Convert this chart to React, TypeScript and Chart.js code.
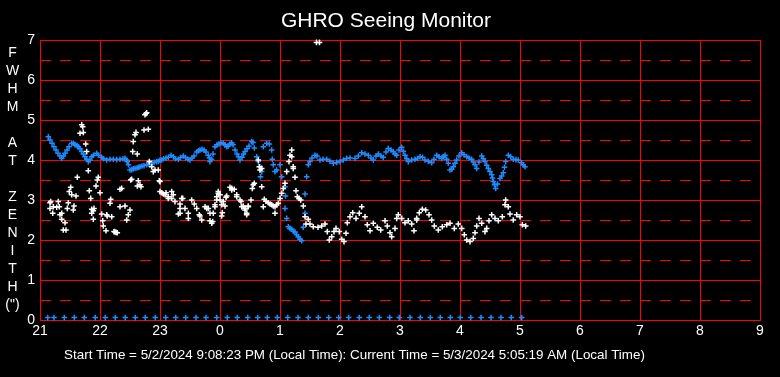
import React, { useEffect, useRef } from 'react';
import { Chart, registerables } from 'chart.js';

Chart.register(...registerables);

// ---- text ----
const TITLE = 'GHRO Seeing Monitor';
const CAPTION = 'Start Time = 5/2/2024 9:08:23 PM (Local Time): Current Time = 5/3/2024 5:05:19 AM (Local Time)';
const Y_TITLE_LINES = ['F', 'W', 'H', 'M', '', 'A', 'T', '', 'Z', 'E', 'N', 'I', 'T', 'H', '(")'];

// ---- axes (x in minutes after 21:00) ----
const HOUR_LABELS = ['21', '22', '23', '0', '1', '2', '3', '4', '5', '6', '7', '8', '9'];
const X_MIN = 0;
const X_MAX = 720;
const X_STEP = 60;
const Y_MIN = 0;
const Y_MAX = 7;
const HALF_TICKS = [0.5, 1.5, 2.5, 3.5, 4.5, 5.5, 6.5];

// ---- blue series (minutes after 21:00, FWHM) ----
const BLUE_MIN = [
  8.3, 10, 12, 14, 16, 18, 20, 21.7, 23.5, 25, 27, 29, 31.7, 33.5, 35, 37, 38.3, 40, 41.7, 43.3,
  45, 46.7, 48.3, 50, 51.7, 53.5, 56.7, 58.5, 61.7, 63.5, 66.7, 70, 73.3, 76.7, 80, 83, 85, 86.5, 87.3, 88.5,
  90, 91.7, 93.3, 95, 97, 98.5, 100, 102, 104, 106.7, 108.5, 110, 112, 114, 116.7, 118.5, 120, 121.7, 123.5, 126,
  128.3, 131, 133.5, 135.5, 138.3, 140.5, 143.3, 145.5, 148, 150, 152, 154, 156.7, 158.5, 160, 162, 164, 166, 168.3, 169.5,
  170, 171.5, 173, 175, 177, 179, 181, 183.3, 185, 186.7, 188.3, 190, 191.7, 193, 195, 197, 198.5, 200, 202, 203.5,
  205, 207, 209, 211.7, 213,
  214.3, 216.7, 218.3, 220, 221.7, 220.5, 223.3, 226.7, 229.3, 231.7, 232.3, 233.3, 235, 236.7, 240, 241.7, 245, 245.5, 245, 246.7,
  248.3, 250, 251.7, 253.3, 255, 256.7, 258.3, 260, 261.7, 263.3, 265, 265, 266.7, 268.3,
  270, 272, 275, 277, 280, 283, 286.7, 290, 293.3, 296.7, 300, 303.3, 306.7, 310, 315, 318.3, 321.7, 325, 328.3, 331,
  333.3, 336, 338.3, 341, 343.3, 346, 348.3, 351, 353.3, 355, 356.7, 359, 361.7, 363.3, 365, 366.7, 368.3, 371.7, 375, 377.5,
  380, 382.5, 385, 388.3, 391.7, 394, 396.7, 399, 401.7, 403.3, 405, 406.7, 408.3, 410, 411.7, 413.3, 415, 416.7, 419, 421.7,
  424, 426.7, 429, 431.7, 433.3, 435, 436.7, 439, 441.7, 443.3, 445, 446.7, 448.3, 450, 451.7, 452.5, 453.3, 454.5, 455.7, 457.5,
  460, 461.7, 463.3, 464.5, 465.7, 468.3, 470.7, 473.3, 476, 478.3, 481.7, 483.3, 485,
];
const BLUE_FWHM = [
  4.58, 4.5, 4.42, 4.33, 4.25, 4.17, 4.1, 4.04, 4.1, 4.17, 4.25, 4.33, 4.42, 4.42, 4.38, 4.36, 4.33, 4.28, 4.21, 4.15,
  4.08, 4.02, 3.96, 4.0, 4.08, 4.12, 4.17, 4.12, 4.07, 4.03, 4.0, 4.02, 4.02, 4.01, 4.02, 4.03, 4.04, 4.0, 3.96, 3.88,
  3.75, 3.76, 3.78, 3.79, 3.8, 3.82, 3.83, 3.85, 3.86, 3.88, 3.9, 3.92, 3.93, 3.94, 3.96, 3.97, 4.0, 4.0, 4.03, 4.05,
  4.07, 4.12, 4.08, 4.03, 4.02, 4.06, 4.1, 4.06, 4.02, 4.0, 4.05, 4.1, 4.2, 4.23, 4.25, 4.27, 4.25, 4.2, 4.12, 4.05,
  3.96, 4.02, 4.15, 4.33, 4.38, 4.4, 4.43, 4.42, 4.38, 4.33, 4.35, 4.4, 4.43, 4.38, 4.25, 4.15, 4.08, 4.0, 4.07, 4.15,
  4.21, 4.28, 4.35, 4.46, 4.44,
  4.3, 4.08, 3.96, 3.83, 3.71, 3.58, 4.33, 4.42, 4.4, 4.25, 4.02, 3.88, 3.71, 3.75, 3.88, 3.58, 3.33, 3.1, 2.79, 2.54,
  2.33, 2.29, 2.27, 2.22, 2.2, 2.13, 2.08, 2.02, 1.98, 2.32, 2.67, 3.15, 3.58, 3.88,
  3.96, 4.05, 4.12, 4.1, 4.0, 4.02, 4.02, 3.97, 3.92, 3.94, 3.96, 4.0, 4.04, 4.05, 4.04, 4.1, 4.18, 4.15, 4.12, 4.05,
  4.0, 4.1, 4.15, 4.1, 4.07, 4.2, 4.29, 4.25, 4.21, 4.15, 4.12, 4.25, 4.32, 4.22, 4.12, 4.03, 3.96, 4.0, 4.02, 4.04,
  4.08, 4.07, 4.0, 3.97, 3.93, 4.02, 4.12, 4.08, 4.04, 4.08, 4.12, 4.02, 3.92, 3.75, 3.77, 3.83, 3.92, 4.0, 4.1, 4.18,
  4.13, 4.08, 4.05, 4.02, 3.95, 3.88, 3.79, 3.95, 4.1, 4.03, 3.96, 3.87, 3.79, 3.71, 3.63, 3.55, 3.46, 3.38, 3.29, 3.4,
  3.54, 3.6, 3.68, 3.82, 3.96, 4.12, 4.08, 4.02, 4.01, 4.0, 3.93, 3.88, 3.83,
];

// ---- white series (minutes after 21:00, FWHM) ----
const WHITE_MIN = [
  10, 10, 10.7, 12.7, 13.3, 16.7, 18.3, 19.3, 20, 21.7, 21.7, 23.3, 25, 26, 27.3, 28.3, 29.3, 30.7, 31.7, 33.3,
  34, 36, 37.3, 40, 41.7, 42.7, 43.3, 45.7, 46.7, 48.3, 49.3, 50.7, 51.7, 51.7, 53.3, 53.3, 54, 56, 57.3, 58.3,
  60, 61.7, 62.7, 63.3, 66, 66.7, 67.3, 70, 70.7, 71.7, 74, 75, 76, 77.3, 80, 80, 81.7, 85, 86.7, 88.3,
  90, 90.7, 91.7, 92.7, 93.3, 95, 96, 97.3, 97.3, 98.3, 100, 101, 104, 105, 106, 106.7, 108.3, 109.3, 111.7, 113.3,
  115, 118.3, 119.3, 120, 120, 121.7, 123.3, 125, 126, 128.3, 128.3, 131.7, 131.7, 133.3, 135, 138.3, 140, 140, 140, 141.7,
  142.7, 145, 148.3, 148.3, 151.7, 154.3, 156.7, 159.3, 160, 161.7, 165, 166.7, 168.3, 170, 170, 171.7, 172.7, 173.3, 175, 175,
  176.7, 176.7, 178.3, 178.3, 180, 180, 181.7, 181.7, 182.3, 183.3, 185, 186, 186.7, 190, 191.7, 191.7, 194.3, 196.7, 196.7, 200,
  201, 201.7, 203.3, 205, 205, 206.7, 206.7, 208.3, 208.3, 211, 212.3, 213.3, 214.3, 218.3, 219.3, 220, 221.7, 221.7, 223.3, 224.3,
  226, 228.3, 230, 231.7, 233.3, 235, 235, 236.7, 238.3, 240, 241.7, 243.3, 245, 246.7, 249, 250, 251.7, 251.7, 253.3, 253.3,
  255, 256, 257.3, 259, 260.7, 263.3, 265, 266, 268.3, 270, 273.3, 276.5, 279.5, 278, 281.7, 285, 287.3, 289.3, 291.7, 294,
  296, 299.3, 301.7, 304, 306, 307.3, 310, 312.7, 316, 319.3, 321.7, 325, 327.3, 330, 333.3, 337.3, 340.7, 345, 347.3, 350,
  351.7, 355, 356.7, 358.3, 361.7, 365, 368.3, 371.7, 374, 376.7, 376.7, 379.3, 382.3, 385.7, 389, 391.7, 394.3, 398.3, 402.3, 406.7,
  410, 414.3, 418.3, 421.7, 424.3, 426.7, 430, 433.3, 435, 436.7, 439, 441.7, 445, 446.7, 449, 451.7, 455, 458.3, 462.3, 465,
  465.7, 468.3, 470, 473.3, 476.7, 480, 482.3, 485.7,
];
const WHITE_FWHM = [
  2.93, 2.79, 2.96, 2.67, 2.83, 2.82, 2.96, 2.83, 2.63, 2.52, 2.67, 2.25, 2.43, 2.25, 2.79, 2.93, 3.21, 3.32, 3.13, 2.75,
  2.85, 3.1, 3.57, 4.67, 4.88, 4.83, 4.69, 4.4, 4.21, 3.73, 3.23, 3.04, 2.77, 2.67, 2.73, 2.52, 2.79, 3.35, 3.5, 3.57,
  3.18, 2.65, 2.48, 2.35, 2.23, 2.63, 2.6, 2.92, 3.02, 2.58, 2.21, 2.2, 2.19, 2.18, 2.83, 3.27, 3.29, 2.85, 2.5, 2.63,
  2.75, 3.5, 3.52, 4.21, 4.46, 4.63, 4.69, 4.15, 3.35, 3.48, 3.38, 3.33, 4.75, 5.13, 5.16, 5.18, 4.77, 3.96, 3.83, 3.71,
  3.75, 3.75, 3.48, 3.21, 3.46, 3.18, 3.15, 3.13, 3.18, 3.08, 3.04, 3.21, 3.04, 3.13, 2.96, 2.65, 2.79, 2.9, 2.67, 3.04,
  3.04, 2.79, 2.54, 2.67, 3.0, 2.9, 2.79, 2.63, 2.6, 2.5, 2.83, 2.79, 2.79, 2.48, 2.67, 2.42, 2.46, 2.67, 2.83, 2.88,
  3.08, 3.0, 3.17, 3.21, 3.0, 3.13, 2.6, 2.88, 2.68, 2.96, 2.85, 3.07, 3.1, 3.32, 3.29, 3.25, 3.27, 3.08, 3.13, 3.0,
  2.96, 2.83, 2.85, 2.75, 2.79, 2.63, 2.67, 2.85, 2.83, 3.0, 3.29, 3.38, 3.42, 4.0, 3.83, 3.75, 3.79, 3.33, 2.83, 3.02,
  2.97, 2.93, 2.9, 2.88, 2.85, 2.83, 2.67, 2.88, 2.92, 3.04, 3.17, 3.29, 3.42, 3.71, 3.96, 4.12, 4.25, 4.08, 3.83, 3.79,
  3.57, 3.23, 3.08, 3.04, 3.0, 2.85, 2.58, 2.4, 2.52, 2.4, 2.33, 6.94, 6.94, 2.32, 2.35, 2.4, 2.21, 2.0, 2.08, 2.21,
  2.29, 2.21, 2.02, 1.96, 2.17, 2.43, 2.58, 2.68, 2.54, 2.67, 2.83, 2.58, 2.38, 2.23, 2.42, 2.32, 2.25, 2.48, 2.35, 2.18,
  2.08, 2.29, 2.54, 2.63, 2.54, 2.43, 2.48, 2.4, 2.23, 2.5, 2.54, 2.68, 2.77, 2.75, 2.63, 2.5, 2.35, 2.25, 2.33, 2.38,
  2.42, 2.29, 2.4, 2.29, 2.13, 2.0, 1.96, 2.04, 2.18, 2.35, 2.54, 2.42, 2.21, 2.29, 2.48, 2.63, 2.54, 2.48, 2.58, 2.88,
  3.0, 2.83, 2.65, 2.5, 2.63, 2.58, 2.38, 2.35,
];

// ---- blue markers along the bottom (minutes after 21:00) ----
const ZERO_MIN = [
  7.7, 14, 24.3, 34.3, 44.3, 55.3, 65.3, 75.3, 85.3, 95.3, 105.3, 115.3, 125.7, 135.7, 145.7, 156, 166, 176.7, 187.3, 197.3,
  207.7, 217.7, 227.3, 237.3, 247.7, 258, 268.3, 278.3, 288.7, 298.7, 308.7, 319.3, 329.3, 339.3, 349.7, 359.3, 370, 380.3, 390.3, 400.3,
  410.3, 420.3, 430.7, 441, 451, 461, 471.3, 481.7,
];
const ZERO_FWHM = 0.06;

const BLUE = '#1E8CFF';
const WHITE = '#FFFFFF';
const RED = '#FF0000';
const FONT = '"Liberation Sans", Arial, sans-serif';

const bgPlugin = {
  id: 'seeingBackground',
  beforeDraw(chart: any) {
    const { ctx, width, height } = chart;
    ctx.save();
    ctx.fillStyle = '#000';
    ctx.fillRect(0, 0, width, height);
    ctx.restore();
  },
};

// dashed half-unit grid lines, positioned through the y scale
const halfGridPlugin = {
  id: 'halfGrid',
  beforeDatasetsDraw(chart: any) {
    const { ctx, chartArea } = chart;
    const y = chart.scales.y;
    ctx.save();
    ctx.strokeStyle = RED;
    ctx.lineWidth = 1;
    ctx.setLineDash([11, 9]);
    HALF_TICKS.forEach((v) => {
      const py = Math.round(y.getPixelForValue(v)) + 0.5;
      ctx.beginPath();
      ctx.moveTo(chartArea.left, py);
      ctx.lineTo(chartArea.right, py);
      ctx.stroke();
    });
    ctx.restore();
  },
};

const textPlugin = {
  id: 'seeingTexts',
  afterDraw(chart: any) {
    const { ctx, chartArea } = chart;
    ctx.save();
    ctx.fillStyle = WHITE;
    ctx.textAlign = 'center';
    ctx.textBaseline = 'middle';
    ctx.font = '14px ' + FONT;
    Y_TITLE_LINES.forEach((s, i) => {
      if (s) ctx.fillText(s, 12.5, chartArea.top + 13.3 + i * 18);
    });
    ctx.font = '13.4px ' + FONT;
    ctx.fillText(CAPTION, 354.5, chartArea.bottom + 35);
    ctx.restore();
  },
};

export default function App() {
  const ref = useRef<HTMLCanvasElement | null>(null);

  useEffect(() => {
    document.body.style.margin = '0';
    document.body.style.background = '#000';
    const canvas = ref.current;
    if (!canvas) return;

    const blue = BLUE_MIN.map((x, i) => ({ x, y: BLUE_FWHM[i] }));
    const white = WHITE_MIN.map((x, i) => ({ x, y: WHITE_FWHM[i] }));
    const zero = ZERO_MIN.map((x) => ({ x, y: ZERO_FWHM }));

    const pointDs = (data: any[], color: string) => ({
      data,
      showLine: false,
      pointStyle: 'cross',
      pointRadius: 2.8,
      pointHoverRadius: 2.8,
      borderColor: color,
      backgroundColor: color,
      borderWidth: 1.5,
      pointBorderWidth: 1.5,
      clip: false as any,
    });

    const chart = new Chart(canvas, {
      type: 'scatter',
      data: {
        datasets: [pointDs(white, WHITE), pointDs(blue, BLUE), pointDs(zero, BLUE)],
      },
      plugins: [bgPlugin, halfGridPlugin, textPlugin],
      options: {
        animation: false,
        responsive: false,
        devicePixelRatio: 1,
        events: [],
        layout: { padding: { left: 12, right: 20, top: 0, bottom: 0 } },
        plugins: {
          legend: { display: false },
          tooltip: { enabled: false },
          title: {
            display: true,
            text: TITLE,
            color: WHITE,
            font: { family: FONT, size: 21, weight: 'normal' as any, lineHeight: 1.2 },
            padding: { top: 9, bottom: 5.8 },
          },
        },
        scales: {
          x: {
            type: 'linear',
            min: X_MIN,
            max: X_MAX,
            afterBuildTicks: (axis: any) => {
              axis.ticks = HOUR_LABELS.map((_, i) => ({ value: X_MIN + i * X_STEP }));
            },
            afterFit: (scale: any) => {
              scale.height = 57;
            },
            ticks: {
              autoSkip: false,
              maxRotation: 0,
              color: WHITE,
              padding: 3,
              font: { family: FONT, size: 14 },
              callback: (v: any) => HOUR_LABELS[Math.round((Number(v) - X_MIN) / X_STEP)],
            },
            grid: { color: RED, lineWidth: 1, drawTicks: false },
            border: { display: true, color: RED, width: 1 },
          },
          y: {
            type: 'linear',
            min: Y_MIN,
            max: Y_MAX,
            afterFit: (scale: any) => {
              scale.width = 28;
            },
            ticks: {
              stepSize: 1,
              color: WHITE,
              padding: 5,
              font: { family: FONT, size: 14 },
            },
            grid: { color: RED, lineWidth: 1, drawTicks: false },
            border: { display: true, color: RED, width: 1 },
          },
        },
      },
    } as any);

    return () => chart.destroy();
  }, []);

  return (
    <div style={{ width: 780, height: 377, background: '#000' }}>
      <canvas ref={ref} width={780} height={377} style={{ display: 'block' }} />
    </div>
  );
}
